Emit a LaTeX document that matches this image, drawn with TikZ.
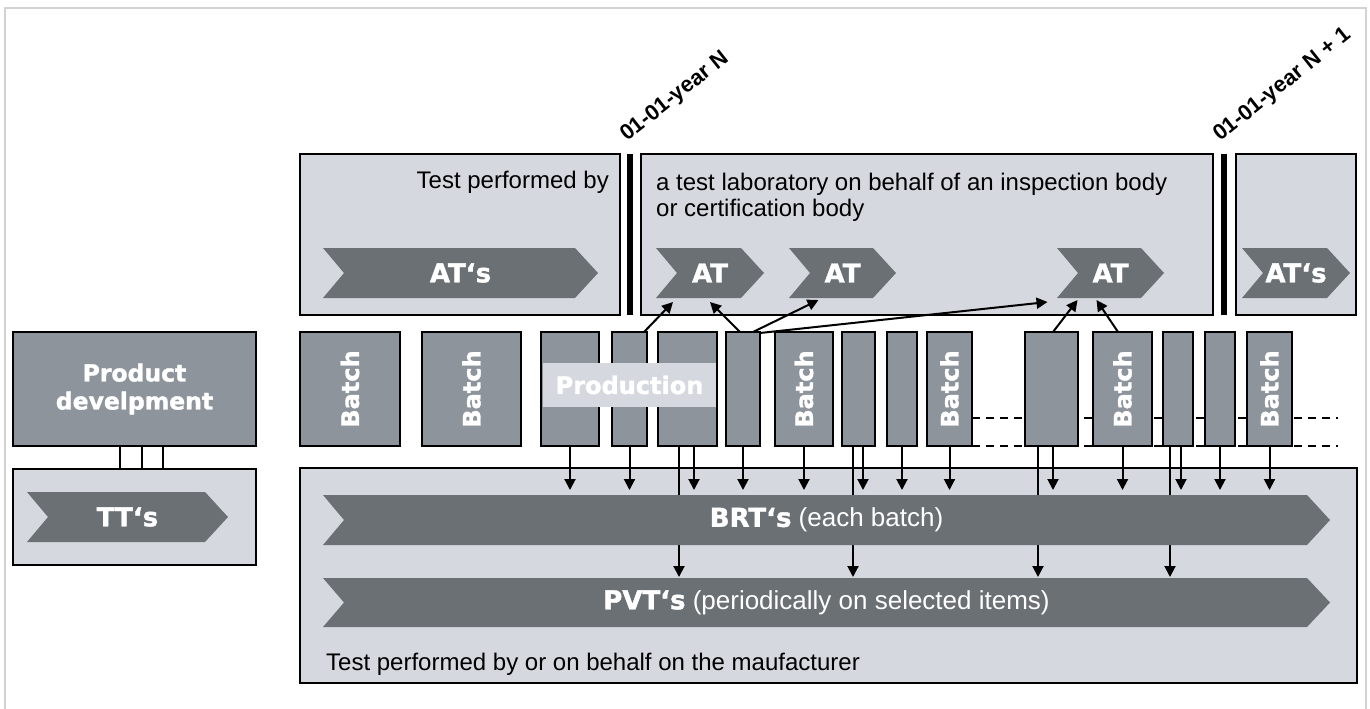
\documentclass[tikz,border=0pt]{standalone}
\usepackage{fontspec}
\setmainfont{Liberation Sans}
\newfontfamily\heavy{DejaVu Sans}[BoldFeatures={FakeBold=1.5}]
\usetikzlibrary{arrows.meta,calc}
\definecolor{lightfill}{HTML}{D5D8DF}
\definecolor{batchfill}{HTML}{8D949C}
\definecolor{chevfill}{HTML}{6A7074}
\definecolor{framegray}{HTML}{D2D2D2}
\newcommand\boxat[6]{% style, name, x1, y1, x2, y2
  \node[#1, minimum width={(#5-#3)*1pt}, minimum height={(#6-#4)*1pt}] (#2) at ({(#3+#5)/2},{(#4+#6)/2}) {};}
\newcommand\chev[6]{% name, x1, y1, x2, y2, text
  \fill[chevfill] (#2,#3) -- ({#4-23},#3) -- (#4,{(#3+#5)/2}) -- ({#4-23},#5) -- (#2,#5) -- ({#2+21},{(#3+#5)/2}) -- cycle;
  \node[chevtext] (#1) at ({(#2+#4)/2},{(#3+#5)/2}) {#6};}
\begin{document}
\begin{tikzpicture}[x=1pt,y=-1pt,
  panel/.style={draw=black, line width=2pt, fill=lightfill, inner sep=0pt, outer sep=0pt},
  darkbox/.style={draw=black, line width=2pt, fill=batchfill, inner sep=0pt, outer sep=0pt},
  barbox/.style={fill=black, inner sep=0pt, outer sep=0pt},
  chevtext/.style={text=white, font=\fontsize{26}{30}\selectfont, inner sep=0pt},
  batchlbl/.style={text=white, font=\heavy\bfseries\fontsize{24}{28}\selectfont, rotate=90, inner sep=0pt},
  arr/.style={line width=2pt, -{Triangle[length=11pt,width=11pt]}},
  plainline/.style={line width=2pt},
  dashline/.style={line width=2pt, dash pattern=on 8pt off 6pt},
  datelbl/.style={font=\bfseries\fontsize{22}{24}\selectfont, rotate=38.5, anchor=base west, inner sep=0pt},
  bodytext/.style={font=\fontsize{24}{27}\selectfont, inner sep=0pt}]
\useasboundingbox (0,0) rectangle (1370,709);
% outer frame
\draw[framegray, line width=2pt] (5,730) -- (5,8) -- (1366,8) -- (1366,730);
% panels
\boxat{panel}{boxA}{300}{154}{620}{315}
\boxat{panel}{boxB}{641}{154}{1213}{315}
\boxat{panel}{boxC}{1236}{154}{1356}{315}
\boxat{panel}{manu}{300}{468}{1357}{683}
\boxat{panel}{ttbox}{13}{469}{256}{565}
\boxat{barbox}{bar1}{627}{154}{633}{315}
\boxat{barbox}{bar2}{1221}{154}{1227}{315}
% product development
\boxat{darkbox}{pd}{13}{332}{256}{446}
\node[text=white, font=\heavy\bfseries\fontsize{23.5}{28}\selectfont, align=center, inner sep=0pt] (pdtext) at (pd) {Product\\develpment};
\draw[plainline] ($(pd.south west)+(107,0)$) -- ($(ttbox.north west)+(107,0)$);
\draw[plainline] ($(pd.south west)+(129,0)$) -- ($(ttbox.north west)+(129,0)$);
\draw[plainline] ($(pd.south west)+(150,0)$) -- ($(ttbox.north west)+(150,0)$);
% dashed continuation
\coordinate (dashA1) at (972,418);
\coordinate (dashA2) at (1338,418);
\coordinate (dashB1) at (972,446);
\coordinate (dashB2) at (1338,446);
\draw[dashline] (dashA1) -- (dashA2);
\draw[dashline] (dashB1) -- (dashB2);
% batches
\boxat{darkbox}{b1}{300}{332}{400}{446}
\boxat{darkbox}{b2}{422}{332}{521}{446}
\boxat{darkbox}{b3}{541}{332}{599}{446}
\boxat{darkbox}{b4}{612}{332}{647}{446}
\boxat{darkbox}{b5}{658}{332}{717}{446}
\boxat{darkbox}{b6}{726}{332}{760}{446}
\boxat{darkbox}{b7}{775}{332}{833}{446}
\boxat{darkbox}{b8}{842}{332}{875}{446}
\boxat{darkbox}{b9}{887}{332}{917}{446}
\boxat{darkbox}{b10}{927}{332}{972}{446}
\boxat{darkbox}{b11}{1025}{332}{1078}{446}
\boxat{darkbox}{b12}{1093}{332}{1152}{446}
\boxat{darkbox}{b13}{1163}{332}{1193}{446}
\boxat{darkbox}{b14}{1205}{332}{1235}{446}
\boxat{darkbox}{b15}{1247}{332}{1292}{446}
\foreach \b in {b1,b2,b7,b10,b12,b15} {\node[batchlbl] at (\b) {Batch};}
\node[fill=lightfill, text=white, font=\heavy\bfseries\fontsize{24}{28}\selectfont, minimum width=173pt, minimum height=44pt, inner sep=0pt] (prod) at (629.5,385) {Production};
% down arrows
\coordinate (brttop) at (0,490);
\foreach \b in {b3,b4,b6,b7,b9,b10,b12,b14,b15} {\draw[arr] (\b.south) -- (\b.south |- brttop);}
\draw[arr] ($(b5.south west)+(36,0)$) -- ++(0,44);
\draw[arr] ($(b8.south west)+(21,0)$) -- ++(0,44);
\draw[arr] ($(b11.south west)+(28,0)$) -- ++(0,44);
\draw[arr] ($(b13.south west)+(18,0)$) -- ++(0,44);
\draw[arr] ($(b5.south west)+(21,0)$) -- ++(0,131);
\draw[arr] ($(b8.south west)+(11,0)$) -- ++(0,131);
\draw[arr] ($(b11.south west)+(13,0)$) -- ++(0,131);
\draw[arr] ($(b13.south west)+(7,0)$) -- ++(0,131);
% chevrons
\chev{tt}{27}{492}{228}{542}{\heavy\bfseries TT‘s}
\chev{atsA}{323}{248}{598}{298}{\heavy\bfseries AT‘s}
\chev{at1}{656}{248}{764}{298}{\heavy\bfseries AT}
\chev{at2}{789}{248}{896}{298}{\heavy\bfseries AT}
\chev{at3}{1057}{248}{1164}{298}{\heavy\bfseries AT}
\chev{atsC}{1242}{248}{1350}{298}{\heavy\bfseries AT‘s}
\chev{brt}{323}{495}{1330}{545}{{\heavy\bfseries BRT‘s} \normalfont(each batch)}
\chev{pvt}{323}{578}{1330}{627}{{\heavy\bfseries PVT‘s} \normalfont(periodically on selected items)}
% up arrows
\draw[arr] ($(b4.north east)+(-3,0)$) -- ($(at1)+(-37,29)$);
\draw[arr] ($(b6.north west)+(14,0)$) -- ($(at1)+(0,29)$);
\draw[arr] ($(b6.north)+(10,0)$) -- ($(at2)+(-24,27)$);
\draw[arr] ($(b6.north east)+(0,1)$) -- ($(at3)+(-63,29)$);
\draw[arr] ($(b11.north)+(1.5,0)$) -- ($(at3)+(-33,27)$);
\draw[arr] ($(b12.north west)+(25,0)$) -- ($(at3)+(-14,27)$);
% texts
\node[bodytext, anchor=base east] (ta) at (609,188) {Test performed by};
\node[bodytext, anchor=base west] (tb1) at (656,190) {a test laboratory on behalf of an inspection body};
\node[bodytext, anchor=base west] (tb2) at (656,216) {or certification body};
\node[bodytext, anchor=base west] (tm) at (326,670) {Test performed by or on behalf on the maufacturer};
\node[datelbl] (d1) at (627,142) {01-01-year N};
\node[datelbl] (d2) at (1220,142) {01-01-year N + 1};
\end{tikzpicture}
\end{document}
